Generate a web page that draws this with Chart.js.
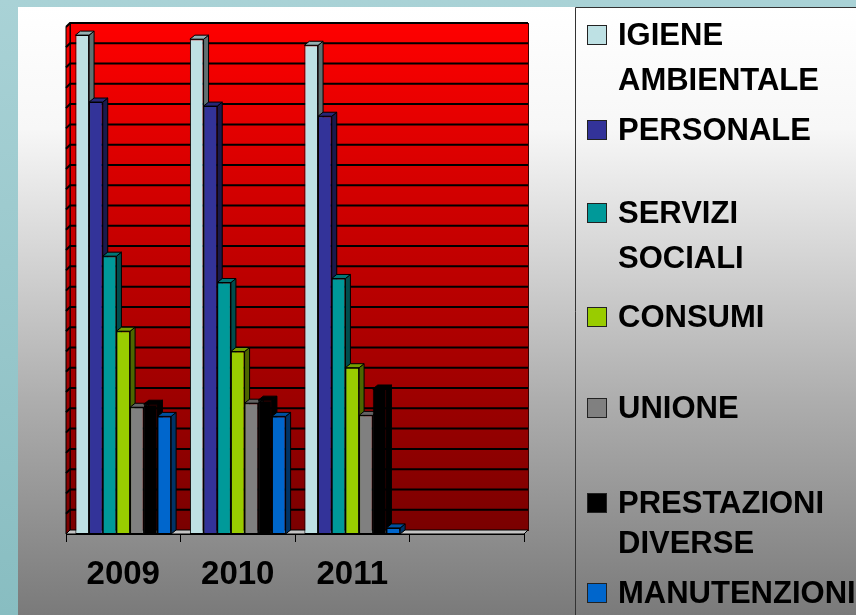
<!DOCTYPE html>
<html>
<head>
<meta charset="utf-8">
<script src="https://cdn.jsdelivr.net/npm/chart.js@4.4.0/dist/chart.umd.min.js"></script>
<style>
  html, body { margin: 0; padding: 0; background: #a6cfd3; }
  canvas { display: block; }
</style>
</head>
<body>
<canvas id="myChart" width="856" height="615"></canvas>
<script>
// values (no y labels in the original, 25 grid steps)
const years = ['2009', '2010', '2011', ''];
const seriesNames = ['IGIENE AMBIENTALE', 'PERSONALE', 'SERVIZI SOCIALI', 'CONSUMI', 'UNIONE', 'PRESTAZIONI DIVERSE', 'MANUTENZIONI'];
const igiene = [24.6, 24.4, 24.1, null];
const personale = [21.3, 21.1, 20.6, null];
const servizi = [13.7, 12.4, 12.6, null];
const consumi = [10.0, 9.0, 8.2, null];
const unione = [6.25, 6.45, 5.85, null];
const prestazioni = [6.4, 6.6, 7.15, null];
const manutenzioni = [5.8, 5.8, 0.3, null];
const colors = ['#bee1e4', '#333399', '#009999', '#99cc00', '#808080', '#000000', '#0066cc'];

const allSeries = [igiene, personale, servizi, consumi, unione, prestazioni, manutenzioni];

const FONT = '"Liberation Sans", Arial, sans-serif';
const DX = 5, DY = 4;   // bar depth
const WX = 4, WY = 4;   // back wall offset

function shade(hex, f) {
  const n = parseInt(hex.slice(1), 16);
  const r = Math.round(((n >> 16) & 255) * f);
  const g = Math.round(((n >> 8) & 255) * f);
  const b = Math.round((n & 255) * f);
  return 'rgb(' + r + ',' + g + ',' + b + ')';
}

function poly(ctx, pts, fill) {
  ctx.beginPath();
  ctx.moveTo(pts[0][0], pts[0][1]);
  for (let k = 1; k < pts.length; k++) ctx.lineTo(pts[k][0], pts[k][1]);
  ctx.closePath();
  ctx.fillStyle = fill;
  ctx.fill();
  ctx.stroke();
}

// backgrounds, back wall, grid and the 3d faces of the bars
const depth3d = {
  id: 'depth3d',
  beforeDraw(chart) {
    const ctx = chart.ctx;
    ctx.save();
    let g = ctx.createLinearGradient(0, 0, 0, 615);
    g.addColorStop(0, '#a9d2d6');
    g.addColorStop(1, '#88bdc1');
    ctx.fillStyle = g;
    ctx.fillRect(0, 0, 856, 615);
    g = ctx.createLinearGradient(0, 7, 0, 615);
    g.addColorStop(0, '#ffffff');
    g.addColorStop(0.2, '#f7f7f7');
    g.addColorStop(0.65, '#adadad');
    g.addColorStop(1, '#7a7a7a');
    ctx.fillStyle = g;
    ctx.fillRect(18, 7, 838, 608);
    ctx.restore();
  },
  beforeDatasetsDraw(chart) {
    const {ctx, chartArea: a, scales: {x, y}} = chart;
    ctx.save();
    ctx.lineWidth = 1;
    ctx.strokeStyle = '#000';
    // back wall
    let g = ctx.createLinearGradient(0, a.top - WY, 0, a.bottom - WY);
    g.addColorStop(0, '#ff0000');
    g.addColorStop(1, '#7a0000');
    ctx.fillStyle = g;
    ctx.fillRect(a.left + WX, a.top - WY, a.right - a.left, a.bottom - a.top);
    ctx.strokeStyle = '#3a0000';
    ctx.strokeRect(a.left + WX + 0.5, a.top - WY + 0.5, a.right - a.left, a.bottom - a.top);
    // left wall
    ctx.strokeStyle = '#000';
    poly(ctx, [[a.left, a.top], [a.left + WX, a.top - WY], [a.left + WX, a.bottom - WY], [a.left, a.bottom]], g);
    // floor
    poly(ctx, [[a.left, a.bottom], [a.left + WX, a.bottom - WY], [a.right + WX, a.bottom - WY], [a.right, a.bottom]], '#c4c4c4');
    // grid lines on the walls
    ctx.lineWidth = 2;
    for (let v = y.min + 1; v <= y.max; v++) {
      const py = y.getPixelForValue(v);
      ctx.beginPath();
      ctx.moveTo(a.left, py);
      ctx.lineTo(a.left + WX, py - WY);
      ctx.lineTo(a.right + WX, py - WY);
      ctx.stroke();
    }
    // side and top faces, left to right inside each group
    ctx.lineWidth = 1;
    for (let j = 0; j < years.length; j++) {
      chart.data.datasets.forEach((ds, i) => {
        if (ds.data[j] == null) return;
        const bar = chart.getDatasetMeta(i).data[j];
        const p = bar.getProps(['x', 'y', 'width', 'base'], true);
        const l = p.x - p.width / 2, r = p.x + p.width / 2;
        poly(ctx, [[r, p.base], [r + DX, p.base - DY], [r + DX, p.y - DY], [r, p.y]], shade(colors[i], 0.5));
        poly(ctx, [[l, p.y], [l + DX, p.y - DY], [r + DX, p.y - DY], [r, p.y]], shade(colors[i], 0.78));
      });
    }
    ctx.restore();
  },
  afterDraw(chart) {
    // legend box on the right
    const ctx = chart.ctx;
    const firstLine = [45, 140, 223, 327, 418, 513, 603];
    const nextLine = [45, 0, 45, 0, 0, 40, 0];
    ctx.save();
    ctx.strokeStyle = '#333';
    ctx.lineWidth = 1;
    ctx.beginPath();
    ctx.moveTo(575.5, 615);
    ctx.lineTo(575.5, 7.5);
    ctx.lineTo(856, 7.5);
    ctx.stroke();
    ctx.font = 'bold 31px ' + FONT;
    ctx.textBaseline = 'alphabetic';
    ctx.textAlign = 'left';
    chart.data.datasets.forEach((ds, i) => {
      const by = firstLine[i];
      ctx.fillStyle = colors[i];
      ctx.fillRect(587, by - 20, 20, 20);
      ctx.strokeStyle = '#222';
      ctx.strokeRect(587.5, by - 19.5, 19, 19);
      ctx.fillStyle = '#000';
      const lines = ds.label.split(' ');
      lines.forEach((t, k) => ctx.fillText(t, 618, by + k * nextLine[i]));
    });
    ctx.restore();
  }
};

const ctx = document.getElementById('myChart').getContext('2d');
const myChart = new Chart(ctx, {
  type: 'bar',
  data: {
    labels: years,
    datasets: allSeries.map((d, i) => ({
      label: seriesNames[i],
      data: d,
      backgroundColor: colors[i],
      borderColor: '#000',
      borderWidth: 1,
      borderSkipped: false,
      barPercentage: 1,
      categoryPercentage: 0.836
    }))
  },
  options: {
    responsive: false,
    animation: false,
    devicePixelRatio: 1,
    layout: { padding: { left: 66, right: 332, top: 27, bottom: 0 } },
    plugins: { legend: { display: false }, tooltip: { enabled: false } },
    scales: {
      x: {
        offset: true,
        grid: { display: true, offset: true, drawOnChartArea: false, drawTicks: true, tickLength: 8, color: '#000' },
        border: { display: true, color: '#000', width: 1 },
        ticks: { color: '#000', font: { family: FONT, size: 33, weight: 'bold' }, padding: 13, maxRotation: 0 },
        afterFit(scale) { scale.height = 81; }
      },
      y: { display: false, min: 0, max: 25 }
    }
  },
  plugins: [depth3d]
});
</script>
</body>
</html>
